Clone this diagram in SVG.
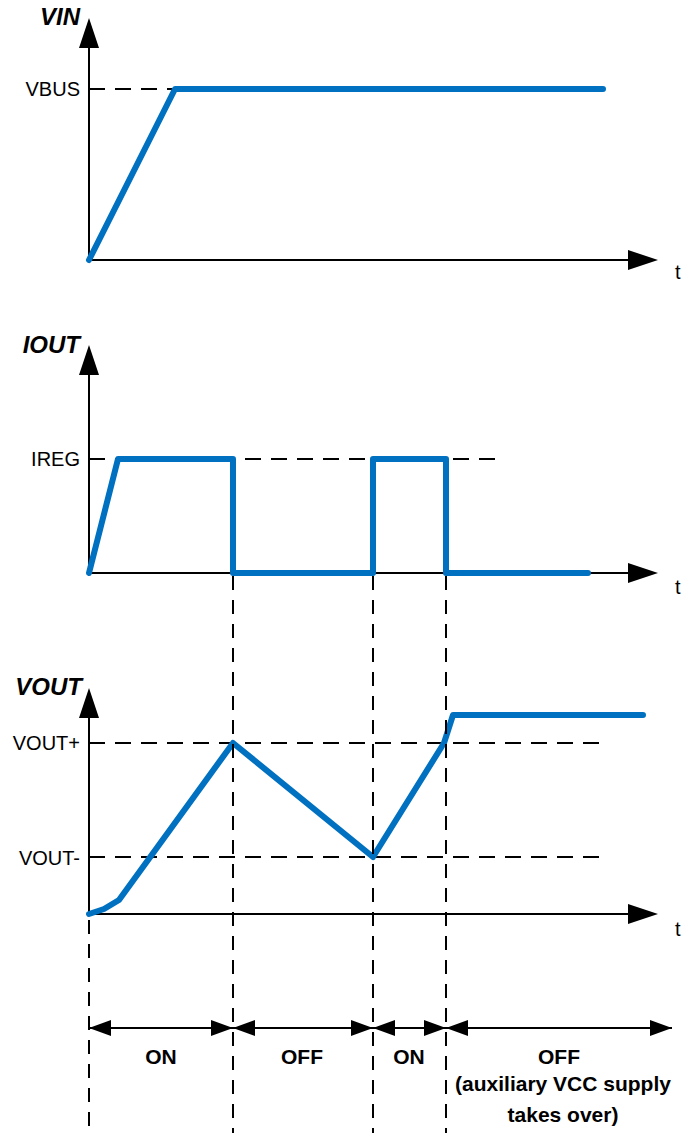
<svg xmlns="http://www.w3.org/2000/svg" width="686" height="1133" viewBox="0 0 686 1133">
<style>
.ax{stroke:#000;stroke-width:2;fill:none}
.dash{stroke:#000;stroke-width:2;fill:none;stroke-dasharray:16 10}
.vdash{stroke:#000;stroke-width:2;fill:none;stroke-dasharray:14 10}
.sig{stroke:#0070C0;stroke-width:6;fill:none;stroke-linejoin:round;stroke-linecap:round}
.head{fill:#000}
.lbl{font-family:"Liberation Sans",Arial,sans-serif;font-size:20px;fill:#000}
.ttl{font-family:"Liberation Sans",Arial,sans-serif;font-size:24px;font-weight:bold;font-style:italic;fill:#000}
.ph{font-family:"Liberation Sans",Arial,sans-serif;font-size:21px;font-weight:bold;fill:#000;text-anchor:middle}
</style>
<defs>
<marker id="ah" markerWidth="22" markerHeight="16" refX="22" refY="8" orient="auto-start-reverse" markerUnits="userSpaceOnUse">
<path d="M0,0 L22,8 L0,16 Z" fill="#000"/>
</marker>
</defs>
<g id="vin-graph">
<line class="ax" x1="89" y1="260" x2="89" y2="46"/>
<path class="head" d="M79,48 L89,18 L99,48 Z"/>
<line class="ax" x1="89" y1="260" x2="630" y2="260"/>
<path class="head" d="M628,250 L658,260 L628,270 Z"/>
<line class="dash" x1="89" y1="89" x2="175" y2="89"/>
<polyline class="sig" points="89,260 175,89 603,89"/>
<text class="ttl" x="80" y="25" text-anchor="end">VIN</text>
<text class="lbl" x="80" y="96" text-anchor="end">VBUS</text>
<text class="lbl" x="675" y="279">t</text>
</g>
<g id="iout-graph">
<line class="ax" x1="89" y1="573" x2="89" y2="373"/>
<path class="head" d="M79,375 L89,345 L99,375 Z"/>
<line class="ax" x1="89" y1="573" x2="630" y2="573"/>
<path class="head" d="M628,563 L658,573 L628,583 Z"/>
<line class="dash" x1="89" y1="459" x2="502" y2="459"/>
<polyline class="sig" points="89,573 118,459 233,459 233,573 373,573 373,459 446,459 446,573 588,573"/>
<text class="ttl" x="80" y="353" text-anchor="end">IOUT</text>
<text class="lbl" x="80" y="466" text-anchor="end">IREG</text>
<text class="lbl" x="675" y="594">t</text>
</g>
<g id="vout-graph">
<line class="ax" x1="89" y1="914" x2="89" y2="716"/>
<path class="head" d="M79,718 L89,688 L99,718 Z"/>
<line class="ax" x1="89" y1="914" x2="630" y2="914"/>
<path class="head" d="M628,904 L658,914 L628,924 Z"/>
<line class="dash" x1="89" y1="743" x2="603" y2="743"/>
<line class="dash" x1="89" y1="857" x2="603" y2="857"/>
<polyline class="sig" points="89,914 104,909 119,900 233,743 373,857 444,743 453,715 643,715"/>
<text class="ttl" x="82" y="695" text-anchor="end">VOUT</text>
<text class="lbl" x="80" y="750" text-anchor="end">VOUT+</text>
<text class="lbl" x="80" y="865" text-anchor="end">VOUT-</text>
<text class="lbl" x="675" y="936">t</text>
</g>
<g id="connectors">
<line class="vdash" x1="89" y1="920" x2="89" y2="1133"/>
<line class="vdash" x1="233" y1="576" x2="233" y2="1133"/>
<line class="vdash" x1="373" y1="576" x2="373" y2="1133"/>
<line class="vdash" x1="446" y1="576" x2="446" y2="1133"/>
<line class="ax" x1="89" y1="1028" x2="233" y2="1028" marker-start="url(#ah)" marker-end="url(#ah)"/>
<line class="ax" x1="233" y1="1028" x2="373" y2="1028" marker-start="url(#ah)" marker-end="url(#ah)"/>
<line class="ax" x1="373" y1="1028" x2="446" y2="1028" marker-start="url(#ah)" marker-end="url(#ah)"/>
<line class="ax" x1="446" y1="1028" x2="672" y2="1028" marker-start="url(#ah)" marker-end="url(#ah)"/>
</g>
<g id="phase-labels">
<text class="ph" x="161" y="1064">ON</text>
<text class="ph" x="302" y="1064">OFF</text>
<text class="ph" x="409" y="1064">ON</text>
<text class="ph" x="559" y="1064">OFF</text>
<text class="ph" x="563" y="1091">(auxiliary VCC supply</text>
<text class="ph" x="563" y="1122">takes over)</text>
</g>
</svg>
